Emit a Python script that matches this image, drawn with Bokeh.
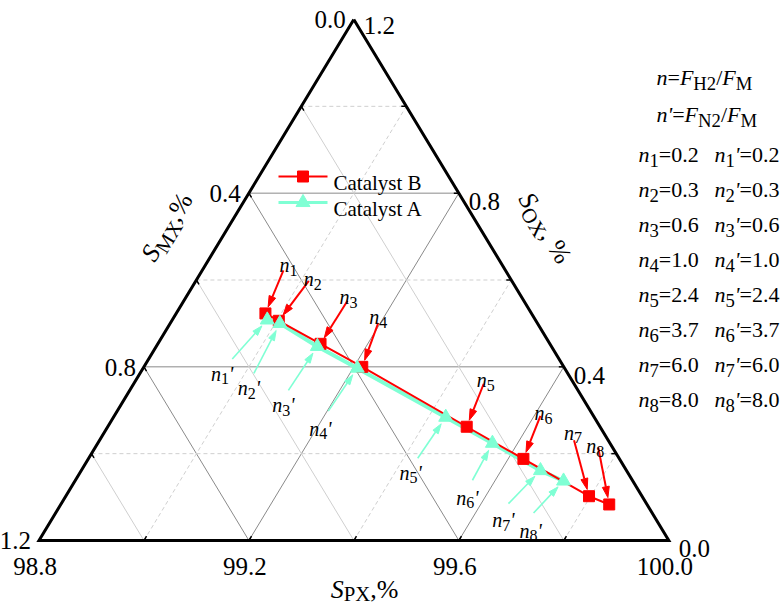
import math
from bokeh.plotting import figure
from bokeh.models import Range1d
from bokeh.core.properties import value
from bokeh.embed import file_html
from bokeh.resources import INLINE

# ---------------- data (ternary values, %) ----------------
series_names = ["Catalyst B", "Catalyst A"]
px_B = [98.970, 99.004, 99.110, 99.216, 99.484, 99.629, 99.797, 99.845]
mx_B = [0.507, 0.490, 0.437, 0.384, 0.254, 0.183, 0.101, 0.072]
ox_B = [0.523, 0.506, 0.453, 0.400, 0.262, 0.188, 0.102, 0.083]

px_A = [98.981, 99.009, 99.107, 99.208, 99.433, 99.552, 99.675, 99.731]
mx_A = [0.511, 0.491, 0.446, 0.395, 0.283, 0.224, 0.164, 0.132]
ox_A = [0.508, 0.500, 0.447, 0.397, 0.284, 0.224, 0.161, 0.137]

n_values = ["0.2", "0.3", "0.6", "1.0", "2.4", "3.7", "6.0", "8.0"]

px_major = [98.8, 99.2, 99.6, 100.0]
mx_major = [0.0, 0.4, 0.8, 1.2]
ox_major = [1.2, 0.8, 0.4, 0.0]
minor_vals = [0.2, 0.6, 1.0]
tick_step_vals = [0.2, 0.4, 0.6, 0.8, 1.0]

# ---------------- layout ----------------
W, H = 780, 608
FONT = "Liberation Serif"
RED = "#ff0000"
CYAN = "#7fffd4"

p = figure(width=W, height=H, x_range=Range1d(0, W), y_range=Range1d(0, H),
           output_backend="svg", toolbar_location=None, x_axis_type=None, y_axis_type=None,
           min_border=0)
p.outline_line_color = None
p.grid.visible = False

def Y(y):  # screen y -> data y
    return H - y

TX, TY = 353.3, 19.0
BLX, BLY = 38.5, 540.0
BRX, BRY = 668.3, 540.0

def tern(px, mx, ox):
    a = (px - 98.8) / 1.2
    b = mx / 1.2
    c = ox / 1.2
    s = a + b + c
    return ((a * BRX + b * BLX + c * TX) / s, (a * BRY + b * BLY + c * TY) / s)

def seg(p0, p1, color, width, dash="solid", alpha=1.0):
    p.line([p0[0], p1[0]], [Y(p0[1]), Y(p1[1])], line_color=color, line_width=width,
           line_dash=dash, line_alpha=alpha)

# ---------------- grid ----------------
MAJ = "#8a8a8a"
MIN = "#cfcfcf"
for v in [0.4, 0.8]:
    seg(tern(98.8, 1.2 - v, v), tern(100 - v, 0, v), MAJ, 1)           # OX const
    seg(tern(98.8, v, 1.2 - v), tern(100 - v, v, 0), MAJ, 1)           # MX const
    seg(tern(98.8 + v, 1.2 - v, 0), tern(98.8 + v, 0, 1.2 - v), MAJ, 1)  # PX const
for v in minor_vals:
    seg(tern(98.8, 1.2 - v, v), tern(100 - v, 0, v), MIN, 1, "4 3")
    seg(tern(98.8, v, 1.2 - v), tern(100 - v, v, 0), MIN, 1)
    seg(tern(98.8 + v, 1.2 - v, 0), tern(98.8 + v, 0, 1.2 - v), MIN, 1, "4 3")

# ---------------- frame ----------------
p.line([TX, BRX, BLX, TX], [Y(TY), Y(BRY), Y(BLY), Y(TY)], line_color="black",
       line_width=3, line_join="miter")

def unit(vx, vy):
    l = math.hypot(vx, vy)
    return vx / l, vy / l

# small ticks
dl = unit(BRX - TX, BRY - TY)
db = unit(TX - BLX, TY - BLY)
for v in tick_step_vals:
    e = tern(98.8, v, 1.2 - v)
    seg(e, (e[0] + dl[0] * 5, e[1] + dl[1] * 5), "black", 1.5)
    e = tern(98.8 + v, 1.2 - v, 0)
    seg(e, (e[0] + db[0] * 5, e[1] + db[1] * 5), "black", 1.5)
    e = tern(100 - v, 0, v)
    seg(e, (e[0] - 5, e[1]), "black", 1.5)

# ---------------- rich text helper ----------------
CW_REG = {' ': 250, '%': 833, "'": 180, ',': 250, '.': 250, '/': 278, '=': 564,
          'A': 722, 'B': 667, 'C': 667, 'H': 722, 'M': 889, 'N': 722, 'O': 722,
          'P': 556, 'S': 556, 'X': 722, 'a': 444, 'l': 278, 's': 389, 't': 278,
          'y': 500, 'n': 500}
CW_IT = {'n': 500, 'F': 611, 'S': 500, "'": 214}

def run_w(t, it, size):
    tot = 0
    for ch in t:
        if it and ch in CW_IT:
            tot += CW_IT[ch]
        else:
            tot += CW_REG.get(ch, 500)
    return tot / 1000 * size

def rich(X, Yv, runs, size, angle=0.0, align="left", sub_scale=0.85, drop=0.25,
         color="black"):
    th = math.radians(angle)
    dx, dy = math.cos(th), -math.sin(th)
    nx, ny = math.sin(th), math.cos(th)
    widths = [run_w(t, it, size * (sub_scale if sb else 1)) for t, it, sb in runs]
    total = sum(widths)
    off = {"left": 0, "center": -total / 2, "right": -total}[align]
    base = 0.33 * size
    bx = X + dx * off + nx * base
    by = Yv + dy * off + ny * base
    pos = 0
    for (t, it, sb), w in zip(runs, widths):
        sz = size * (sub_scale if sb else 1)
        d = drop * size if sb else 0
        x = bx + dx * pos + nx * d
        y = by + dy * pos + ny * d
        p.text(x=[x], y=[Y(y)], text=[t], angle=th, text_font=value(FONT),
               text_font_size=f"{sz:.1f}px",
               text_font_style="italic" if it else "normal",
               text_baseline="alphabetic", text_align="left", text_color=color)
        pos += w

# ---------------- tick labels ----------------
TS = 25
for v in mx_major:
    e = tern(98.8, v, 1.2 - v)
    rich(e[0] - 8, e[1] - 8, [(f"{v:.1f}", False, False)], TS, align="right")
for v in ox_major:
    e = tern(100 - v, 0, v)
    dyo = -2 if v == 1.2 else 0
    rich(e[0] + 10, e[1] + dyo, [(f"{v:.1f}", False, False)], TS, align="left")
for v in px_major:
    e = tern(v, 100 - v, 0)
    rich(e[0] - 4, 558, [(f"{v:.1f}", False, False)], TS, align="center")

# axis titles
rich(364, 580, [("S", True, False), ("PX", False, True), (",%", False, False)], 26,
     align="center", sub_scale=0.8, drop=0.18)
ang = math.degrees(math.atan2(BLY - TY, TX - BLX))
rich(159, 222, [("S", True, False), ("MX", False, True), (",%", False, False)], 26,
     angle=ang, align="center", sub_scale=0.8)
rich(552, 223, [("S", True, False), ("OX", False, True), (", %", False, False)], 26,
     angle=-ang, align="center", sub_scale=0.8)

# ---------------- series ----------------
ptsB = [tern(a, b, c) for a, b, c in zip(px_B, mx_B, ox_B)]
ptsA = [tern(a, b, c) for a, b, c in zip(px_A, mx_A, ox_A)]

p.line([q[0] for q in ptsA], [Y(q[1]) for q in ptsA], line_color=CYAN, line_width=4)
p.line([q[0] for q in ptsB], [Y(q[1]) for q in ptsB], line_color=RED, line_width=2)
p.scatter([q[0] for q in ptsB], [Y(q[1]) for q in ptsB], marker="square", size=11,
          fill_color=RED, line_color=RED)
p.scatter([q[0] for q in ptsA], [Y(q[1]) for q in ptsA], marker="triangle", size=14,
          fill_color=CYAN, line_color=CYAN)

# ---------------- annotations (arrows + labels) ----------------
red_tail = [(18, -43), (30, -40), (27, -43), (16, -44), (17, -43), (17, -43), (-15, -56), (-11, -57)]
red_lab = [(23, -55), (34, -48), (28, -53), (16, -56), (19, -53), (20, -52), (-16, -70), (-14, -65)]
cyan_tail = [(-35, 39), (-26, 50), (-29, 44), (-29, 43), (-28, 41), (-20, 37), (-32, 33), (-30, 32)]
cyan_lab = [(-45, 47), (-31, 58), (-34, 52), (-37, 54), (-35, 49), (-25, 48), (-37, 43), (-33, 43)]

def arrow(pt, toff, gap, color, width, hl, hw):
    tx, ty = pt[0] + toff[0], pt[1] + toff[1]
    ux, uy = unit(pt[0] - tx, pt[1] - ty)
    tipx, tipy = pt[0] - ux * gap, pt[1] - uy * gap
    bx, by = tipx - ux * hl, tipy - uy * hl
    seg((tx, ty), (bx, by), color, width)
    p.patch([tipx, bx - uy * hw, bx + uy * hw], [Y(tipy), Y(by + ux * hw), Y(by - ux * hw)],
            fill_color=color, line_color=color, line_width=1)

LS = 20
for i, q in enumerate(ptsB):
    arrow(q, red_tail[i], 7, RED, 2, 11, 3.5)
    rich(q[0] + red_lab[i][0], q[1] + red_lab[i][1],
         [("n", True, False), (str(i + 1), False, True)], LS, align="center", sub_scale=0.8)
for i, q in enumerate(ptsA):
    arrow(q, cyan_tail[i], 8, CYAN, 1.6, 10, 3.2)
    rich(q[0] + cyan_lab[i][0], q[1] + cyan_lab[i][1],
         [("n", True, False), (str(i + 1), False, True), ("'", True, False)], LS,
         align="center", sub_scale=0.8)

# ---------------- legend ----------------
for k, (nm, col, lw, mk, ms) in enumerate([(series_names[0], RED, 2, "square", 11),
                                          (series_names[1], CYAN, 3, "triangle", 14)]):
    ly = 176 + 26 * k
    p.line([278, 327], [Y(ly), Y(ly)], line_color=col, line_width=lw)
    p.scatter([302.5], [Y(ly)], marker=mk, size=ms, fill_color=col, line_color=col)
    rich(333, ly, [(nm, False, False)], 21)

# ---------------- right-side text ----------------
RS = 22
rich(656, 70, [("n", True, False), ("=", False, False), ("F", True, False), ("H2", False, True),
               ("/", False, False), ("F", True, False), ("M", False, True)], RS)
rich(656, 107, [("n", True, False), ("'", True, False), ("=", False, False), ("F", True, False),
                ("N2", False, True), ("/", False, False), ("F", True, False), ("M", False, True)], RS)
for i, v in enumerate(n_values):
    yy = 147 + 35 * i
    rich(638, yy, [("n", True, False), (str(i + 1), False, True), ("=" + v, False, False)], RS)
    rich(714, yy, [("n", True, False), (str(i + 1), False, True), ("'", True, False),
                   ("=" + v, False, False)], RS)

open("out.html", "w").write(file_html(p, INLINE))
